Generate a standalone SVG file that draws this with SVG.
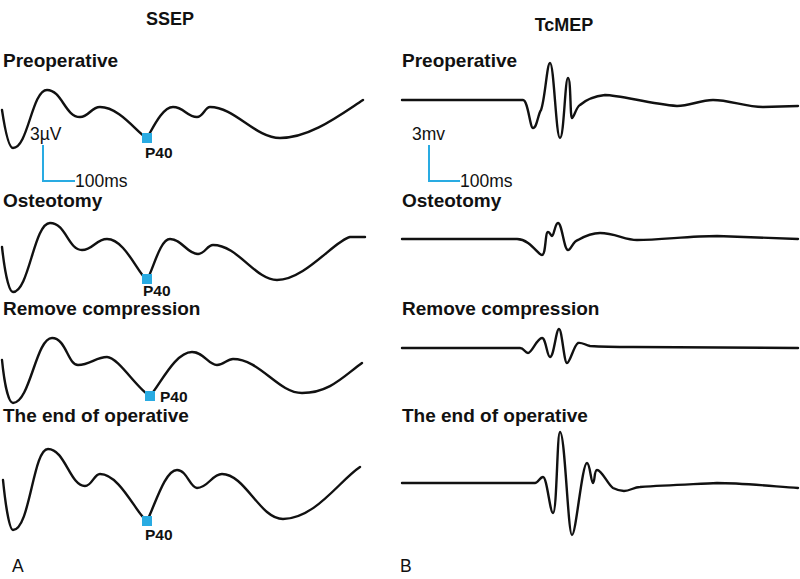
<svg xmlns="http://www.w3.org/2000/svg" width="800" height="579" viewBox="0 0 800 579">
<style>
.wave{fill:none;stroke:#111;stroke-width:2.4;stroke-linejoin:round;stroke-linecap:round}
.bar{fill:none;stroke:#29abe2;stroke-width:2}
.mark{fill:#29abe2}
.title{font-family:"Liberation Sans",Arial,sans-serif;font-weight:bold;font-size:18px;fill:#111}
.lbl{font-family:"Liberation Sans",Arial,sans-serif;font-weight:bold;font-size:19px;fill:#111}
.p40{font-family:"Liberation Sans",Arial,sans-serif;font-weight:bold;font-size:15.5px;fill:#111}
.reg{font-family:"Liberation Sans",Arial,sans-serif;font-size:17.5px;fill:#111}
</style>
<rect width="800" height="579" fill="#fff"/>

<g id="ssep">
<text class="title" x="170" y="25" text-anchor="middle">SSEP</text>
<g id="ssep-pre">
<text class="lbl" x="3" y="67">Preoperative</text>
<path class="wave" d="M2,110 C5,130 9,148 13,148 C28,148 32,90 47,90 C62,90 65,117 80,117 C89,117 91,107 100,107 C120,107 138,134 147,138 C152,130 162,107 173,107 C184,107 187,117 197,117 C203,117 205,107 210,107 C235,107 255,138 280,138 C310,138 340,115 363,100"/>
<rect class="mark" x="142" y="133" width="10" height="10"/>
<text class="p40" x="145" y="158">P40</text>
</g>
<g id="ssep-scale">
<text class="reg" x="30" y="140">3µV</text>
<path class="bar" d="M43,145 V181 H75"/>
<text class="reg" x="75" y="187">100ms</text>
</g>
<g id="ssep-ost">
<text class="lbl" x="3" y="207">Osteotomy</text>
<path class="wave" d="M2,247 C4,265 8,292 13,292 C29,292 34,223 50,223 C66,223 68,250 82,250 C93,250 96,239 107,239 C125,239 138,274 147,280 C153,270 160,239 170,239 C182,239 187,254 198,254 C205,254 207,245 213,245 C238,245 255,280 277,280 C305,280 335,240 350,237 L365,237"/>
<rect class="mark" x="142" y="274" width="10" height="10"/>
<text class="p40" x="143" y="296">P40</text>
</g>
<g id="ssep-rem">
<text class="lbl" x="3" y="315">Remove compression</text>
<path class="wave" d="M2,360 C4,380 8,403 13,403 C30,403 36,338 52,338 C66,338 68,365 78,365 C90,365 96,357 107,357 C118,357 138,390 150,396 C160,385 175,352 192,352 C204,352 208,365 217,365 C224,365 227,359 233,359 C260,359 278,393 302,393 C330,393 345,375 362,363"/>
<rect class="mark" x="145" y="391" width="10" height="10"/>
<text class="p40" x="160" y="402">P40</text>
</g>
<g id="ssep-end">
<text class="lbl" x="3" y="422">The end of operative</text>
<path class="wave" d="M3,480 C5,500 9,530 13,530 C30,530 33,449 48,449 C65,449 70,486 85,486 C92,486 94,474 100,474 C120,474 137,515 147,521 C155,505 165,470 177,470 C187,470 190,488 197,488 C208,488 212,474 222,474 C245,474 260,519 283,519 C315,519 340,480 360,467"/>
<rect class="mark" x="142" y="516" width="10" height="10"/>
<text class="p40" x="145" y="540">P40</text>
</g>
<text class="reg" x="12" y="572" font-size="16">A</text>
</g>

<g id="tcmep">
<text class="title" x="564" y="31" text-anchor="middle">TcMEP</text>
<g id="tcmep-pre">
<text class="lbl" x="402" y="67">Preoperative</text>
<path class="wave" d="M402,100 L523,100 C528,100 530,128 533,128 C537,128 538,114 541,110 C545,100 547,63 550,63 C554,63 556,138 560,138 C564,138 565,78 568,78 C571,78 570,118 572,118 C574,118 576,107 580,105 C588,98 596,96 605,95 C620,95 650,104 677,106 C690,106 700,100 713,100 C730,100 745,107 763,107 L798,106"/>
</g>
<g id="tcmep-scale">
<text class="reg" x="412" y="140">3mv</text>
<path class="bar" d="M429,145 V181 H460"/>
<text class="reg" x="460" y="187">100ms</text>
</g>
<g id="tcmep-ost">
<text class="lbl" x="402" y="207">Osteotomy</text>
<path class="wave" d="M402,239 L517,239 C530,239 538,255 542,255 C546,255 545,232 548,232 C550,232 551,236 552,236 C554,236 555,223 558,223 C562,223 564,250 568,250 C571,250 573,241 578,240 C585,236 592,233 600,233 C615,233 625,240 637,240 C660,240 690,236 717,236 L798,239"/>
</g>
<g id="tcmep-rem">
<text class="lbl" x="402" y="315">Remove compression</text>
<path class="wave" d="M402,348 L520,348 C524,348 525,353 528,353 C532,353 537,338 542,338 C546,338 547,357 550,357 C554,357 556,329 559,329 C562,329 564,363 567,363 C570,363 574,345 578,343 C582,342 585,345 590,346 C605,347 620,347 633,347 L798,348"/>
</g>
<g id="tcmep-end">
<text class="lbl" x="402" y="422">The end of operative</text>
<path class="wave" d="M402,483 L535,483 C538,483 540,477 543,477 C547,477 550,513 553,513 C557,513 557,432 560,432 C565,432 568,535 572,535 C576,535 582,463 587,463 C590,463 591,483 593,483 C595,483 594,470 597,470 C602,470 608,485 613,488 C617,490 620,491 624,491 C630,491 634,487 640,487 C670,485 700,484 717,483 C740,483 770,486 798,488"/>
</g>
<text class="reg" x="400" y="572" font-size="16">B</text>
</g>
</svg>
